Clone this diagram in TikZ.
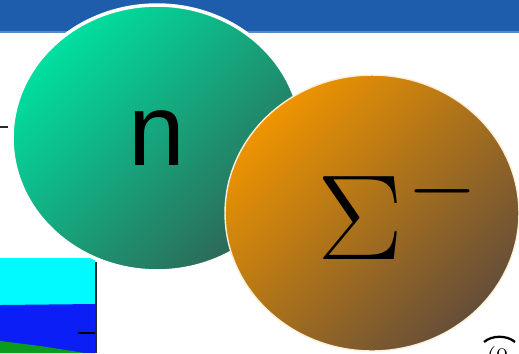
\RequirePackage{fix-cm}
\documentclass[tikz,border=0pt]{standalone}
\usepackage{fontspec}
\newfontfamily\particlefont{Liberation Sans}
\usetikzlibrary{shapes.geometric}

\begin{document}
\begin{tikzpicture}[x=0.02cm, y=-0.02cm]
    % Define colours
    \definecolor{barColour}{HTML}{1E5DAB}
    \definecolor{barEdge}{HTML}{5A88C4}
    \definecolor{greenLight}{HTML}{00E0A0}
    \definecolor{greenDark}{HTML}{2E6656}
    \definecolor{orangeLight}{HTML}{EE9400}
    \definecolor{orangeDark}{HTML}{654E38}
    \definecolor{plotCyan}{HTML}{00FAFF}
    \definecolor{plotBlue}{HTML}{0A1EF5}
    \definecolor{plotGreen}{HTML}{0C9A1C}
    \definecolor{axisColour}{HTML}{2A2A2A}

    % Define picture size
    \def\picWidth{519}
    \def\picHeight{353}

  \useasboundingbox (0,0) rectangle (\picWidth,\picHeight);

  % Draw the title bar
  \fill[barColour] (0,0) rectangle (\picWidth,32);
  \draw[barEdge, line width=0.6pt] (0,32) -- (\picWidth,32);

  % Draw the plot in the lower left corner
  \fill[plotCyan] (0,258) rectangle (95,305);
  \fill[plotBlue] (0,305) -- (95,304) -- (95,\picHeight) -- (0,\picHeight) -- cycle;
  \fill[plotGreen] (0,341) -- (40,346) -- (85,\picHeight) -- (0,\picHeight) -- cycle;
  \draw[axisColour, line width=1.2pt] (96,262) -- (96,\picHeight);
  \draw[black, line width=1pt] (78,333) -- (95,333);

  % Tick at the left edge
  \draw[axisColour, line width=1pt] (0,127) -- (8,127);

  % Draw the two particles
  \node[ellipse, draw=white, line width=2pt,
        top color=greenLight, bottom color=greenDark, shading angle=45,
        minimum width=5.8cm, minimum height=5.32cm, inner sep=0pt,
        font=\particlefont\fontsize{58}{60}\selectfont] (neutron) at (157,138) {n};
  \node[ellipse, draw=white!85!orangeLight, line width=0.8pt,
        top color=orangeLight, bottom color=orangeDark, shading angle=45,
        minimum width=5.88cm, minimum height=5.52cm, inner sep=0pt] (sigma) at (372,213) {};
  \node[anchor=base, inner sep=0pt, font=\fontsize{69}{72}\selectfont] (sigmaLabel) at (398,259)
        {\scalebox{1.06}[1]{$\Sigma^{\kern2pt\raise1.3pt\hbox{$\scriptstyle-$}}$}};

  % Cut-off symbol in the corner
  \draw[black, line width=1.3pt] (484,342) .. controls (492,335) and (507,335) .. (515,342);
  \node[anchor=north west, inner sep=0pt, font=\Large] (cornerText) at (486,346) {$(0$};

\end{tikzpicture}
\end{document}
